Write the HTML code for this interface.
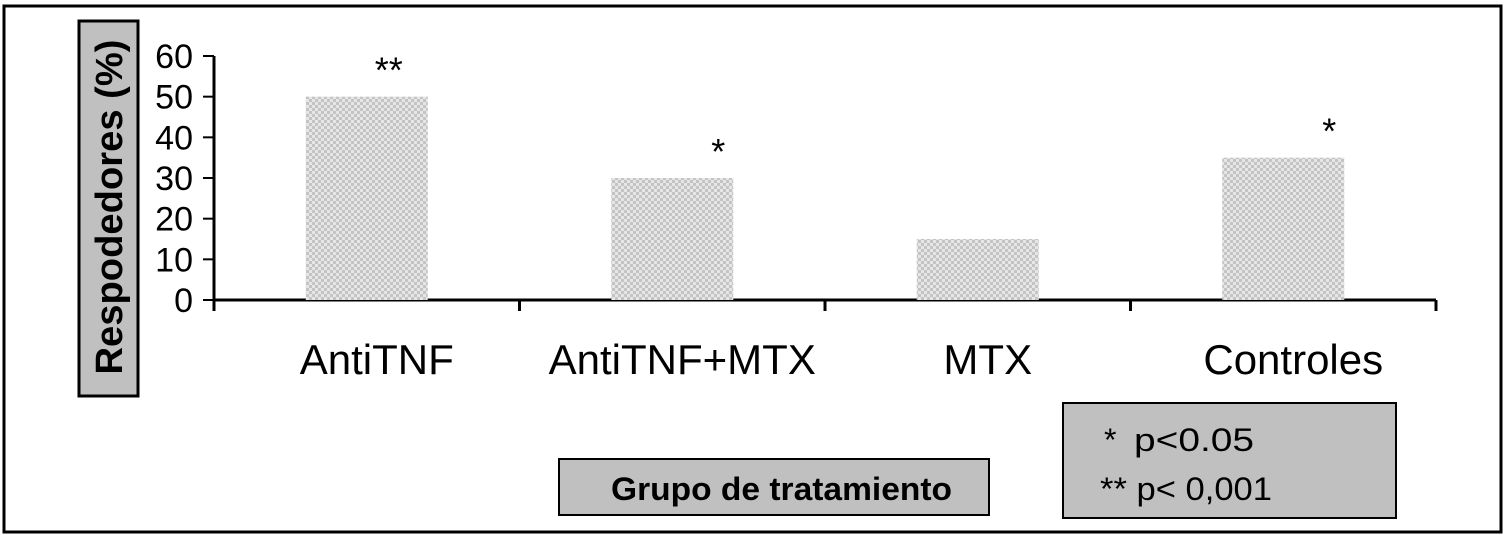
<!DOCTYPE html>
<html><head><meta charset="utf-8"><style>
html,body{margin:0;padding:0;background:#fff;}
svg{display:block;font-family:"Liberation Sans",Arial,sans-serif;}
</style></head><body>
<svg id="chart" width="1507" height="535" viewBox="0 0 1507 535">
<defs>
<pattern id="chk" width="6" height="6" patternUnits="userSpaceOnUse">
<rect width="6" height="6" fill="#e6e6e6"/>
<rect width="3" height="3" fill="#c4c4c4"/>
<rect x="3" y="3" width="3" height="3" fill="#c4c4c4"/>
</pattern>
</defs>
<rect x="4" y="6" width="1497" height="526" fill="#fff" stroke="#000" stroke-width="3"/>
<rect x="79" y="21" width="59" height="375" fill="#c0c0c0" stroke="#000" stroke-width="3"/>
<text x="122" y="207" transform="rotate(-90 122 207)" text-anchor="middle" font-size="38" font-weight="bold" textLength="335" lengthAdjust="spacingAndGlyphs">Respodedores (%)</text>
<g id="axes"></g>
<g id="bars"></g>
<rect x="559" y="459" width="430" height="56" fill="#c0c0c0" stroke="#000" stroke-width="2"/>
<text x="611" y="500" font-size="32" font-weight="bold" textLength="341" lengthAdjust="spacingAndGlyphs">Grupo de tratamiento</text>
<rect x="1063" y="403" width="333" height="115" fill="#c0c0c0" stroke="#000" stroke-width="2"/>
<text x="1104" y="451" font-size="32"><tspan>*</tspan><tspan x="1134" textLength="120" lengthAdjust="spacingAndGlyphs">p&lt;0.05</tspan></text>
<text x="1100" y="500" font-size="32" textLength="172" lengthAdjust="spacingAndGlyphs">** p&lt; 0,001</text>
</svg>
<script>
const categories = ["AntiTNF","AntiTNF+MTX","MTX","Controles"];
const values = [50,30,15,35];
const marks = ["**","*","","*"];
const yTicks = [0,10,20,30,40,50,60];
const NS="http://www.w3.org/2000/svg";
const x0=214,x1=1436,y0=300,yTop=56,yMax=60;
const band=(x1-x0)/categories.length;
const yScale=v=>y0-(v/yMax)*(y0-yTop);
const xCenter=i=>x0+band*(i+0.5);
function mk(tag,attrs,parent){const e=document.createElementNS(NS,tag);for(const k in attrs)e.setAttribute(k,attrs[k]);parent.appendChild(e);return e;}
const axes=document.getElementById('axes'),bars=document.getElementById('bars');
values.forEach((v,i)=>{
  const r=mk('rect',{x:xCenter(i)-61,y:yScale(v),width:122,height:y0-yScale(v),fill:'url(#chk)'},bars);
  
  
  if(marks[i]){
    const s=mk('text',{x:xCenter(i)+(marks[i].length>1?22:46),y:yScale(v)-14,'text-anchor':'middle','font-size':'36'},bars);
    s.textContent=marks[i];
    
    
  }
  const t=mk('text',{x:xCenter(i)+10,y:374,'text-anchor':'middle','font-size':'42'},axes);
  t.textContent=categories[i];
  
  
});
const ya=mk('line',{x1:x0,y1:yTop,x2:x0,y2:y0+10,stroke:'#000','stroke-width':3},axes);


const xa=mk('line',{x1:x0,y1:y0,x2:x1,y2:y0,stroke:'#000','stroke-width':3},axes);


yTicks.forEach(v=>{
  mk('line',{x1:x0-11,y1:yScale(v),x2:x0,y2:yScale(v),stroke:'#000','stroke-width':2},axes);
  const t=mk('text',{x:x0-21,y:yScale(v)+12,'text-anchor':'end','font-size':'34'},axes);
  t.textContent=v;
  
  
});
for(let i=0;i<=categories.length;i++){
  mk('line',{x1:x0+band*i,y1:y0,x2:x0+band*i,y2:y0+11,stroke:'#000','stroke-width':3},axes);
}
</script>
</body></html>
